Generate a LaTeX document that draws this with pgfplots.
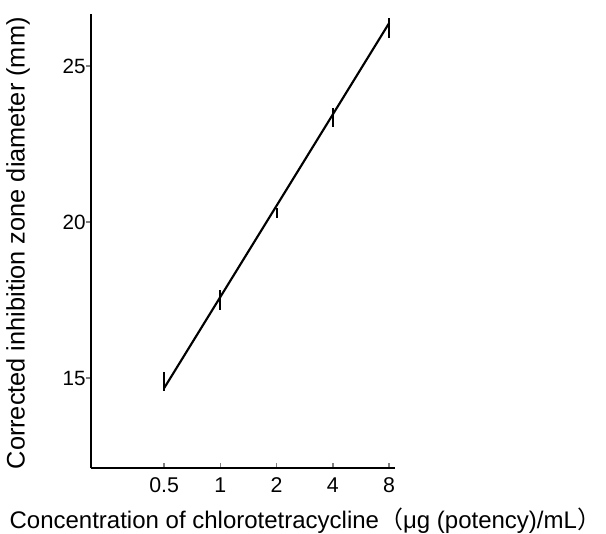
\documentclass[border=0pt]{standalone}
\usepackage{pgfplots}
\pgfplotsset{compat=1.18}
\usepackage{fontspec}
\setmainfont{Liberation Sans}
\newfontfamily\cjk{Noto Sans CJK SC}
\begin{document}
\begin{tikzpicture}
\path[use as bounding box] (-68.25pt,-48.75pt) rectangle (386.25pt,351pt);
\begin{axis}[
  scale only axis,
  width=228pt, height=340.5pt,
  xmode=log, log basis x=2,
  xmin=0.203, xmax=8.6,
  ymin=12.12, ymax=26.67,
  axis x line*=bottom, axis y line*=left,
  axis line style={line width=1.5pt},
  xtick={0.5,1,2,4,8}, xticklabels={0.5,1,2,4,8},
  ytick={15,20,25},
  /pgf/number format/assume math mode=true,
  xticklabel style={font=\fontsize{16}{19}\selectfont, yshift=-4pt},
  yticklabel style={font=\fontsize{15.5}{18}\selectfont, xshift=-0.5pt},
  major tick length=3.5pt,
  tick align=inside,
  ytick style={line width=1.2pt, xshift=-3.5pt},
  xtick style={line width=1.2pt},
  xlabel={Concentration of chlorotetracycline{\cjk（}μg (potency)/mL{\cjk）}},
  ylabel={Corrected inhibition zone diameter (mm)},
  every axis x label/.style={at={(axis description cs:0.705,-0.117)}, anchor=center, font=\fontsize{18}{21}\selectfont},
  every axis y label/.style={at={(axis description cs:-0.24,0.495)}, rotate=90, anchor=center, font=\fontsize{19}{22}\selectfont},
  clip=false,
]
\addplot[black, line width=1.6pt] coordinates {(0.5,14.68) (8,26.38)};
\addplot[black, only marks, mark size=0pt,
  error bars/.cd, y dir=both, y explicit,
  error bar style={line width=1.6pt}, error mark=none]
  coordinates {
  (0.5,14.9) +- (0,0.3)
  (1,17.5) +- (0,0.33)
  (2,20.3) +- (0,0.16)
  (4,23.35) +- (0,0.3)
  (8,26.22) +- (0,0.33)
  };
\end{axis}
\end{tikzpicture}
\end{document}
